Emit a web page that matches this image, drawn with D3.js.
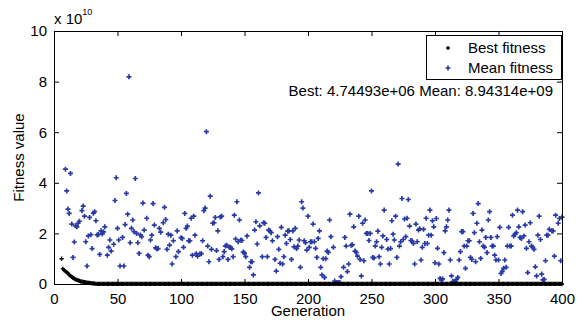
<!DOCTYPE html>
<html>
<head>
<meta charset="utf-8">
<script src="https://cdn.jsdelivr.net/npm/d3@7"></script>
<style>
  body { margin: 0; background: #fff; }
  svg { display: block; font-family: "Liberation Sans", Arial, sans-serif; }
</style>
</head>
<body>
<div id="chart"></div>
<script>
// best fitness: early generations (values in units of 1e10)
const bestStartGen = 6;
const bestEarly = [1.0, 0.6, 0.55, 0.5, 0.46, 0.42, 0.37, 0.32, 0.28, 0.24, 0.21, 0.18, 0.16, 0.14,
  0.12, 0.1, 0.09, 0.08, 0.07, 0.06, 0.05, 0.045, 0.04, 0.03, 0.025, 0.02, 0.015, 0.01];
const bestPlateau = 0.000474493; // 4.74493e+06
const lastGen = 400;

// mean fitness, [generation, value / 1e10]
const mean0to100 = [[9,4.54],[10,3.68],[11,2.96],[12,2.79],[13,4.37],[14,2.37],[15,1.05],[16,1.66],[17,2.3],[18,2.26],[19,2.4],[20,2.48],[22,2.9],[23,3.08],[24,2.68],[25,1.67],[26,0.71],[27,1.9],[28,2.63],[29,1.95],[30,1.4],[31,2.8],[32,2.86],[33,2.5],[34,1.94],[35,1.96],[36,1.17],[37,2.1],[38,1.98],[39,2.06],[40,2.26],[42,1.14],[43,1.45],[44,1.74],[45,1.3],[47,1.57],[48,3.3],[49,4.2],[50,2.2],[51,1.74],[52,0.71],[54,1.84],[55,0.71],[56,2.35],[57,3.58],[58,2.76],[59,8.19],[60,1.63],[61,2.2],[62,2.53],[63,2.07],[64,4.17],[65,2.0],[66,1.63],[67,1.21],[68,1.94],[69,1.87],[70,3.2],[71,2.13],[73,2.6],[74,1.14],[75,1.08],[76,1.74],[77,1.93],[78,3.18],[79,2.33],[80,1.43],[81,1.39],[82,1.4],[83,2.2],[84,2.05],[86,2.42],[87,3.03],[88,2.55],[89,1.37],[90,1.97],[91,1.54],[92,1.93],[93,0.79],[94,1.71],[96,1.08],[97,2.1],[98,1.28],[100,1.83]];
const mean100to200 = [[101,1.8],[102,1.45],[103,2.79],[104,2.2],[105,2.29],[106,1.71],[107,1.71],[108,2.6],[109,1.14],[110,2.68],[111,1.93],[112,1.2],[113,1.1],[115,1.2],[116,1.2],[117,1.71],[118,2.9],[119,3.0],[120,6.02],[121,1.5],[122,0.88],[123,3.47],[124,1.37],[125,2.4],[126,2.42],[127,2.63],[128,1.32],[129,2.1],[130,0.97],[131,2.65],[132,2.68],[133,1.08],[134,1.28],[135,1.5],[136,1.53],[137,0.97],[138,1.45],[139,1.45],[140,1.39],[141,1.08],[142,2.72],[143,1.78],[144,3.25],[145,1.67],[146,2.53],[147,1.74],[148,1.72],[149,1.26],[150,1.22],[151,1.08],[152,1.9],[154,0.66],[155,0.88],[156,0.88],[157,0.36],[158,2.13],[159,2.46],[160,1.58],[161,3.6],[162,2.3],[164,1.08],[165,2.42],[166,2.4],[167,1.84],[168,1.08],[169,2.13],[170,2.1],[171,2.03],[172,1.71],[174,0.97],[175,0.51],[176,1.87],[177,1.37],[178,0.82],[179,2.24],[180,0.79],[181,1.08],[182,1.93],[183,1.6],[184,2.09],[185,2.1],[186,1.76],[187,0.97],[188,2.1],[189,1.47],[190,2.2],[191,1.4],[192,1.5],[193,1.74],[194,0.66],[195,3.25],[196,3.0],[197,1.71],[198,1.63],[199,1.34],[200,2.68]];
const mean200to300 = [[201,1.45],[202,1.67],[203,1.67],[204,2.37],[205,1.67],[206,1.41],[207,1.05],[208,1.8],[209,2.1],[210,0.66],[211,0.36],[212,1.0],[213,0.26],[214,1.0],[215,1.3],[216,1.25],[217,2.53],[218,1.87],[220,1.45],[221,0.12],[222,0.05],[223,0.05],[224,0.05],[225,0.06],[226,0.29],[228,0.66],[229,1.84],[230,1.5],[231,0.49],[232,0.79],[233,2.76],[234,1.53],[235,1.55],[236,2.26],[237,1.3],[238,1.25],[239,1.1],[240,2.68],[241,0.97],[242,0.32],[243,2.4],[244,0.92],[245,2.53],[246,2.0],[247,2.0],[248,1.72],[249,2.0],[250,3.68],[251,1.05],[252,1.03],[253,1.5],[254,1.67],[255,2.09],[256,1.08],[257,0.79],[258,1.45],[259,1.9],[260,2.92],[262,1.76],[263,1.38],[264,0.79],[265,1.4],[266,2.5],[267,1.97],[268,1.74],[269,2.68],[270,1.05],[271,4.74],[272,1.5],[273,1.67],[274,3.38],[275,1.76],[276,2.57],[277,1.87],[278,2.6],[279,3.34],[280,2.29],[281,1.72],[282,1.7],[283,1.6],[284,0.79],[285,2.37],[286,1.67],[287,2.13],[288,2.18],[289,0.95],[290,1.45],[291,2.16],[292,1.6],[293,2.6],[294,1.6],[295,1.93],[296,2.92],[297,1.93],[298,2.5],[299,2.26],[300,0.84]];
const mean300to400 = [[301,2.59],[302,1.41],[303,0.79],[304,0.22],[305,0.16],[306,0.2],[307,1.24],[308,2.1],[309,2.26],[310,2.53],[311,2.92],[312,0.95],[313,0.32],[314,0.1],[315,0.1],[316,0.1],[317,0.18],[318,0.26],[319,0.95],[320,1.28],[321,2.07],[322,2.07],[323,1.5],[324,0.62],[325,1.5],[326,1.71],[327,1.71],[328,1.05],[329,0.97],[330,2.79],[331,2.03],[332,0.88],[333,2.4],[334,3.18],[335,1.67],[336,1.01],[337,2.13],[338,1.5],[339,1.45],[340,1.84],[341,1.24],[342,2.53],[343,2.86],[344,1.84],[345,1.5],[346,1.5],[347,1.14],[348,0.95],[349,1.87],[350,0.95],[351,2.24],[352,0.42],[353,0.5],[354,0.62],[355,0.95],[356,0.66],[357,1.5],[358,2.24],[359,1.5],[360,1.5],[361,2.72],[362,1.9],[363,1.97],[364,2.03],[365,2.92],[366,2.26],[367,1.84],[368,1.8],[369,2.86],[370,1.9],[371,2.33],[372,1.41],[373,0.45],[374,1.67],[375,2.42],[376,1.5],[377,1.45],[378,1.37],[379,0.68],[380,0.32],[381,1.93],[382,2.68],[383,1.76],[384,0.39],[385,0.16],[386,0.18],[387,0.92],[388,1.93],[389,1.93],[390,2.16],[392,2.1],[393,2.1],[394,1.1],[395,2.72],[397,2.4],[398,2.59],[399,0.92],[400,2.64]];

const xTicks = [0, 50, 100, 150, 200, 250, 300, 350, 400];
const yTicks = [0, 2, 4, 6, 8, 10];
const legendLabels = ["Best fitness", "Mean fitness"];
const statsText = "Best: 4.74493e+06 Mean: 8.94314e+09";

const width = 585, height = 322;
const margin = { top: 31, right: 23, bottom: 38, left: 54 };
const innerWidth = width - margin.left - margin.right;
const innerHeight = height - margin.top - margin.bottom;
const blue = "#2a3aa4";
const fontSize = 15;

const bestData = bestEarly.map((v, i) => [bestStartGen + i, v]);
for (let g = bestStartGen + bestEarly.length; g <= lastGen; g++) bestData.push([g, bestPlateau]);
const meanData = [...mean0to100, ...mean100to200, ...mean200to300, ...mean300to400];

const x = d3.scaleLinear().domain([0, 400]).range([0, innerWidth]);
const y = d3.scaleLinear().domain([0, 10]).range([innerHeight, 0]);

const svg = d3.select("#chart").append("svg")
  .attr("width", width).attr("height", height);
svg.append("rect").attr("width", width).attr("height", height).attr("fill", "#fff");

const root = svg.append("g").attr("transform", `translate(${margin.left},${margin.top})`);

const crossBlue = d3.symbol(d3.symbolCross, 14)();
const crossBlack = d3.symbol(d3.symbolCross, 10)();

root.append("g").selectAll("path")
  .data(meanData).join("path")
  .attr("d", crossBlue)
  .attr("transform", (d) => `translate(${x(d[0])},${y(d[1])})`)
  .attr("fill", blue);

root.append("g").selectAll("path")
  .data(bestData).join("path")
  .attr("d", crossBlack)
  .attr("transform", (d) => `translate(${x(d[0])},${y(d[1])})`)
  .attr("fill", "#000");

// axes with inward ticks on all four sides (MATLAB box style)
function styleAxis(g) {
  g.select(".domain").remove();
  g.selectAll("line").attr("stroke", "#000");
  g.selectAll("text").attr("fill", "#000").attr("font-size", fontSize)
    .attr("font-family", "Liberation Sans, Arial, sans-serif");
}
function bareTicks(g) {
  g.select(".domain").remove();
  g.selectAll("text").remove();
  g.selectAll("line").attr("stroke", "#000");
}
root.append("g").attr("transform", `translate(0,${innerHeight})`)
  .call(d3.axisBottom(x).tickValues(xTicks).tickSizeInner(-5).tickSizeOuter(0).tickPadding(9))
  .call(styleAxis);
root.append("g")
  .call(d3.axisTop(x).tickValues(xTicks).tickSizeInner(-5).tickSizeOuter(0))
  .call(bareTicks);
root.append("g")
  .call(d3.axisLeft(y).tickValues(yTicks).tickSizeInner(-5).tickSizeOuter(0).tickPadding(7))
  .call(styleAxis);
root.append("g").attr("transform", `translate(${innerWidth},0)`)
  .call(d3.axisRight(y).tickValues(yTicks).tickSizeInner(-5).tickSizeOuter(0))
  .call(bareTicks);

root.append("rect")
  .attr("width", innerWidth).attr("height", innerHeight)
  .attr("fill", "none").attr("stroke", "#000").attr("stroke-width", 1)
  .attr("shape-rendering", "crispEdges");

// exponent label
const expo = svg.append("text").attr("x", margin.left).attr("y", 24)
  .attr("font-size", fontSize).attr("fill", "#000");
expo.append("tspan").text("x 10");
expo.append("tspan").attr("font-size", 9).attr("dy", -9).text("10");

svg.append("text")
  .attr("transform", `translate(24,${margin.top + innerHeight / 2}) rotate(-90)`)
  .attr("text-anchor", "middle").attr("font-size", fontSize).attr("fill", "#000")
  .text("Fitness value");

svg.append("text")
  .attr("x", margin.left + innerWidth / 2).attr("y", 316)
  .attr("text-anchor", "middle").attr("font-size", fontSize).attr("fill", "#000")
  .text("Generation");

// legend
const legend = svg.append("g").attr("transform", "translate(426,35)");
legend.append("rect").attr("width", 135).attr("height", 44)
  .attr("fill", "#fff").attr("stroke", "#000").attr("shape-rendering", "crispEdges");
legendLabels.forEach((label, i) => {
  legend.append("path").attr("d", i === 0 ? crossBlack : crossBlue)
    .attr("transform", `translate(22,${13 + i * 20})`)
    .attr("fill", i === 0 ? "#000" : blue);
  legend.append("text").attr("x", 42).attr("y", 18 + i * 20)
    .attr("font-size", fontSize).attr("fill", "#000").text(label);
});

svg.append("text")
  .attr("x", 553).attr("y", 96).attr("text-anchor", "end")
  .attr("font-size", fontSize).attr("fill", "#000")
  .text(statsText);
</script>
</body>
</html>
